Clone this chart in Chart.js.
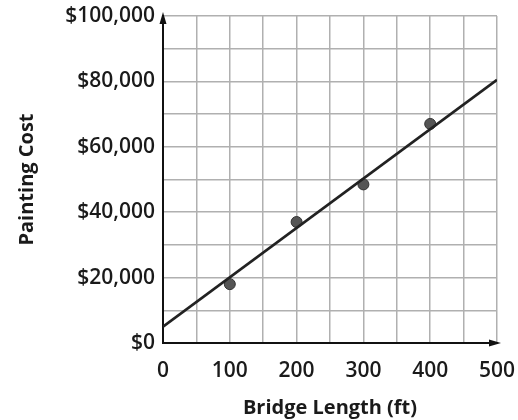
<!DOCTYPE html>
<html>
<head>
<meta charset="utf-8">
<script src="https://cdn.jsdelivr.net/npm/chart.js@4/dist/chart.umd.min.js"></script>
<style>
  html, body { margin: 0; padding: 0; background: #fff; }
  #wrap { width: 518px; height: 420px; }
</style>
</head>
<body>
<div id="wrap"><canvas id="chart" width="518" height="420"></canvas></div>
<script>
// --- Datos ---
const bridgeLengths = [100, 200, 300, 400];
const paintingCosts = [18000, 37000, 48500, 67000];
const fitLineX = [0, 500];
const fitLineY = [5000, 80500];

const xTickLabels = { 0: '0', 100: '100', 200: '200', 300: '300', 400: '400', 500: '500' };
const yTickLabels = { 0: '$0', 20000: '$20,000', 40000: '$40,000', 60000: '$60,000', 80000: '$80,000', 100000: '$100,000' };

const fontFamily = '"Open Sans", "Noto Sans", sans-serif';

// --- Flechas de los ejes ---
const axisArrows = {
    id: 'axisArrows',
    afterDraw(chart) {
        const { ctx, chartArea } = chart;
        ctx.save();
        ctx.fillStyle = '#111';
        // flecha eje y
        ctx.beginPath();
        ctx.moveTo(chartArea.left, chartArea.top - 4);
        ctx.lineTo(chartArea.left - 3.5, chartArea.top + 8);
        ctx.lineTo(chartArea.left + 3.5, chartArea.top + 8);
        ctx.closePath();
        ctx.fill();
        // flecha eje x
        ctx.beginPath();
        ctx.moveTo(chartArea.right + 4, chartArea.bottom);
        ctx.lineTo(chartArea.right - 8, chartArea.bottom - 3.5);
        ctx.lineTo(chartArea.right - 8, chartArea.bottom + 3.5);
        ctx.closePath();
        ctx.fill();
        ctx.restore();
    }
};

const ctx = document.getElementById('chart').getContext('2d');
new Chart(ctx, {
    type: 'scatter',
    data: {
        datasets: [
            {
                label: 'Costo',
                data: bridgeLengths.map((x, i) => ({ x: x, y: paintingCosts[i] })),
                backgroundColor: '#555',
                borderColor: '#333',
                borderWidth: 1,
                pointRadius: 5.5,
                order: 2
            },
            {
                label: 'Ajuste',
                data: fitLineX.map((x, i) => ({ x: x, y: fitLineY[i] })),
                showLine: true,
                borderColor: '#222',
                borderWidth: 2.8,
                pointRadius: 0,
                order: 1
            }
        ]
    },
    options: {
        responsive: false,
        animation: false,
        layout: { padding: { top: 16, right: 21, left: 0, bottom: 0 } },
        plugins: {
            legend: { display: false },
            tooltip: { enabled: false }
        },
        scales: {
            x: {
                type: 'linear',
                min: 0,
                max: 500,
                ticks: {
                    stepSize: 50,
                    autoSkip: false,
                    maxRotation: 0,
                    padding: 15,
                    color: '#1a1a1a',
                    font: { family: fontFamily, size: 21, weight: '600' },
                    callback: v => xTickLabels[v] !== undefined ? xTickLabels[v] : ''
                },
                grid: { color: '#b0b0b0', lineWidth: 1.5, drawTicks: false },
                border: { color: '#111', width: 2 },
                title: {
                    display: true,
                    text: 'Bridge Length (ft)',
                    color: '#1a1a1a',
                    font: { family: fontFamily, size: 20, weight: 'bold' },
                    padding: { top: 4, bottom: 0 }
                },
                afterFit(scale) {
                    scale.height = 77;
                    scale.paddingLeft = 0;
                    scale.paddingRight = 0;
                }
            },
            y: {
                type: 'linear',
                min: 0,
                max: 100000,
                ticks: {
                    stepSize: 10000,
                    autoSkip: false,
                    padding: 8,
                    color: '#1a1a1a',
                    font: { family: fontFamily, size: 21, weight: '600' },
                    callback: v => yTickLabels[v] !== undefined ? yTickLabels[v] : ''
                },
                grid: { color: '#b0b0b0', lineWidth: 1.5, drawTicks: false },
                border: { color: '#111', width: 2 },
                title: {
                    display: true,
                    text: 'Painting Cost',
                    color: '#1a1a1a',
                    font: { family: fontFamily, size: 20, weight: 'bold' },
                    padding: { top: 15, bottom: 4 }
                },
                afterFit(scale) {
                    scale.width = 163;
                    scale.paddingTop = 0;
                    scale.paddingBottom = 0;
                }
            }
        }
    },
    plugins: [axisArrows]
});
</script>
</body>
</html>
